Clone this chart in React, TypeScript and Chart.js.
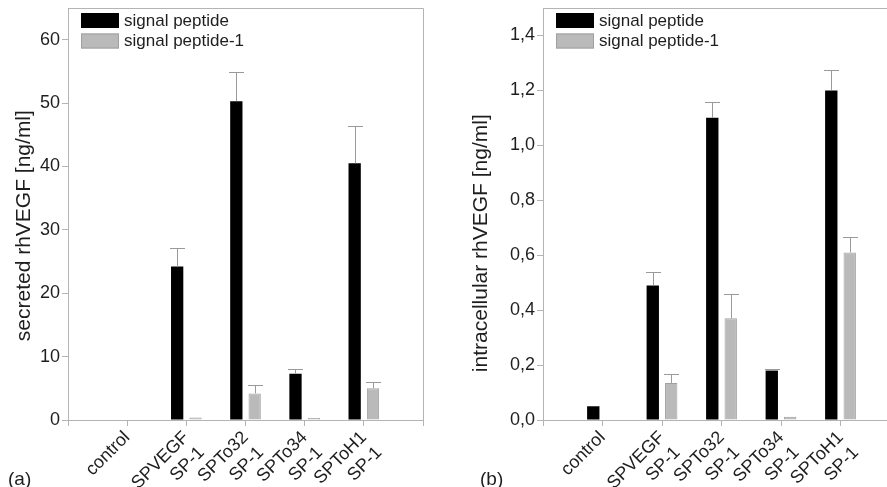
import React, { useEffect, useRef } from 'react';
import { Chart, registerables } from 'chart.js';

Chart.register(...registerables);

// ---------- data ----------
const categories: (string | string[])[] = [
  'control',
  ['SPVEGF', 'SP-1'],
  ['SPTo32', 'SP-1'],
  ['SPTo34', 'SP-1'],
  ['SPToH1', 'SP-1'],
];
const seriesNames = ['signal peptide', 'signal peptide-1'];

// (a) secreted rhVEGF [ng/ml]
const secretedSP = [0, 24.2, 50.3, 7.3, 40.5];
const secretedSPErr = [null, 3.0, 4.6, 0.8, 5.9];
const secretedSP1 = [0, 0.4, 4.2, 0.3, 5.0];
const secretedSP1Err = [null, null, 1.3, null, 1.0];
const secretedTicks = [0, 10, 20, 30, 40, 50, 60];

// (b) intracellular rhVEGF [ng/ml]
const intraSP = [0.05, 0.49, 1.1, 0.18, 1.2];
const intraSPErr = [null, 0.05, 0.057, 0.005, 0.075];
const intraSP1 = [0, 0.135, 0.37, 0.012, 0.61];
const intraSP1Err = [null, 0.032, 0.09, null, 0.058];
const intraTicks = [0, 0.2, 0.4, 0.6, 0.8, 1.0, 1.2, 1.4];

// ---------- style ----------
const FONT = '"Liberation Sans", Arial, Helvetica, sans-serif';
const AXIS = '#b4b4b4';
const TEXT = '#1e1e1e';
const BLACK = '#000000';
const GRAY = '#bababa';
const GRAY_EDGE = '#a0a0a0';
const ERR = '#9a9a9a';

const pad = (arr: any[]) => [null, ...arr, null];

const overlayPlugin = {
  id: 'overlay',
  afterDatasetsDraw(chart: any) {
    const { ctx, scales } = chart;
    chart.data.datasets.forEach((ds: any, di: number) => {
      const errs = ds.errors as (number | null)[];
      if (!errs) return;
      const meta = chart.getDatasetMeta(di);
      meta.data.forEach((el: any, i: number) => {
        const e = errs[i];
        const v = ds.data[i];
        if (e == null || v == null) return;
        const yTop = Math.round(scales.y.getPixelForValue(v + e)) + 0.5;
        const yBar = el.y;
        const x = Math.round(el.x) + 0.5;
        const half = 7.5;
        ctx.save();
        ctx.strokeStyle = ERR;
        ctx.lineWidth = 1;
        ctx.beginPath();
        ctx.moveTo(x, yBar);
        ctx.lineTo(x, yTop);
        ctx.moveTo(x - half, yTop);
        ctx.lineTo(x + half, yTop);
        ctx.stroke();
        ctx.restore();
      });
    });
  },
  afterDraw(chart: any) {
    const { ctx, chartArea } = chart;
    ctx.save();
    // frame (top + right)
    ctx.strokeStyle = AXIS;
    ctx.lineWidth = 1;
    ctx.beginPath();
    const t = Math.round(chartArea.top) + 0.5;
    const r = Math.round(chartArea.right) + 0.5;
    ctx.moveTo(chartArea.left, t);
    ctx.lineTo(r, t);
    ctx.lineTo(r, chartArea.bottom);
    ctx.stroke();
    // legend inside the plot
    const lx = chartArea.left + 13;
    let ly = chartArea.top + 5;
    ctx.font = `17px ${FONT}`;
    ctx.textBaseline = 'middle';
    ctx.textAlign = 'left';
    chart.data.datasets.forEach((ds: any) => {
      ctx.fillStyle = ds.backgroundColor;
      ctx.fillRect(lx, ly, 38, 15);
      if (ds.borderWidth) {
        ctx.strokeStyle = ds.borderColor;
        ctx.strokeRect(lx + 0.5, ly + 0.5, 37, 14);
      }
      ctx.fillStyle = TEXT;
      ctx.fillText(ds.label, lx + 43, ly + 8);
      ly += 20.5;
    });
    ctx.restore();
  },
};

type Panel = {
  black: number[];
  blackErr: (number | null)[];
  gray: number[];
  grayErr: (number | null)[];
  ticks: number[];
  yMax: number;
  title: string;
  titlePad: number;
  axisWidth: number;
  width: number;
  rightPad: number;
  fmt: (v: number) => string;
};

function makeConfig(p: Panel): any {
  return {
    type: 'bar',
    data: {
      labels: pad(categories).map((c) => (c == null ? '' : c)),
      datasets: [
        {
          label: seriesNames[0],
          data: pad(p.black),
          errors: pad(p.blackErr),
          backgroundColor: BLACK,
          borderWidth: 0,
        },
        {
          label: seriesNames[1],
          data: pad(p.gray),
          errors: pad(p.grayErr),
          backgroundColor: GRAY,
          borderColor: GRAY_EDGE,
          borderWidth: 1,
        },
      ],
    },
    options: {
      responsive: false,
      animation: false,
      devicePixelRatio: 1,
      layout: { padding: { left: 0, top: 8, right: p.rightPad, bottom: 0 } },
      datasets: { bar: { categoryPercentage: 0.62, barPercentage: 0.67 } },
      plugins: {
        legend: { display: false },
        tooltip: { enabled: false },
      },
      scales: {
        x: {
          type: 'category',
          offset: false,
          grid: {
            display: true,
            offset: false,
            drawOnChartArea: false,
            drawTicks: true,
            tickLength: 6,
            color: AXIS,
          },
          border: { color: AXIS },
          ticks: {
            autoSkip: false,
            minRotation: 45,
            maxRotation: 45,
            padding: 1,
            color: TEXT,
            font: { family: FONT, size: 18 },
          },
          afterFit: (s: any) => {
            s.height = 487 - 420;
            s.paddingLeft = 0;
            s.paddingRight = 0;
          },
        },
        y: {
          min: 0,
          max: p.yMax,
          afterBuildTicks: (s: any) => {
            s.ticks = p.ticks.map((v) => ({ value: v }));
          },
          grid: {
            display: true,
            drawOnChartArea: false,
            drawTicks: true,
            tickLength: 6,
            color: AXIS,
          },
          border: { color: AXIS },
          ticks: {
            padding: 2,
            color: TEXT,
            font: { family: FONT, size: 18 },
            callback: (v: any) => p.fmt(Number(v)),
          },
          title: {
            display: true,
            text: p.title,
            color: TEXT,
            font: { family: FONT, size: 21 },
            padding: { top: p.titlePad, bottom: 0 },
          },
          afterFit: (s: any) => {
            s.width = p.axisWidth;
            s.paddingTop = 0;
            s.paddingBottom = 0;
          },
        },
      },
    },
    plugins: [overlayPlugin],
  };
}

const panelA: Panel = {
  black: secretedSP,
  blackErr: secretedSPErr,
  gray: secretedSP1,
  grayErr: secretedSP1Err,
  ticks: secretedTicks,
  yMax: 65,
  title: 'secreted rhVEGF [ng/ml]    ',
  titlePad: 12,
  axisWidth: 68,
  width: 440,
  rightPad: 440 - 423,
  fmt: (v) => String(Math.round(v)),
};

const panelB: Panel = {
  black: intraSP,
  blackErr: intraSPErr,
  gray: intraSP1,
  grayErr: intraSP1Err,
  ticks: intraTicks,
  yMax: 1.5,
  title: 'intracellular rhVEGF [ng/ml]          ',
  titlePad: 24,
  axisWidth: 98,
  width: 458,
  rightPad: 3,
  fmt: (v) => v.toFixed(1).replace('.', ','),
};

function ChartCanvas({ panel, left }: { panel: Panel; left: number }) {
  const ref = useRef<HTMLCanvasElement | null>(null);
  useEffect(() => {
    if (!ref.current) return;
    const chart = new Chart(ref.current, makeConfig(panel));
    return () => chart.destroy();
  }, [panel]);
  return (
    <canvas
      ref={ref}
      width={panel.width}
      height={487}
      style={{ position: 'absolute', left, top: 0, width: panel.width, height: 487, display: 'block' }}
    />
  );
}

const panelLabel: React.CSSProperties = {
  position: 'absolute',
  top: 469,
  fontFamily: FONT,
  fontSize: 19,
  lineHeight: '19px',
  color: TEXT,
};

export default function App() {
  return (
    <div
      style={{
        position: 'fixed',
        left: 0,
        top: 0,
        width: 887,
        height: 487,
        overflow: 'hidden',
        background: '#ffffff',
      }}
    >
      <ChartCanvas panel={panelA} left={0} />
      <ChartCanvas panel={panelB} left={445} />
      <div style={{ ...panelLabel, left: 8 }}>(a)</div>
      <div style={{ ...panelLabel, left: 480 }}>(b)</div>
    </div>
  );
}
